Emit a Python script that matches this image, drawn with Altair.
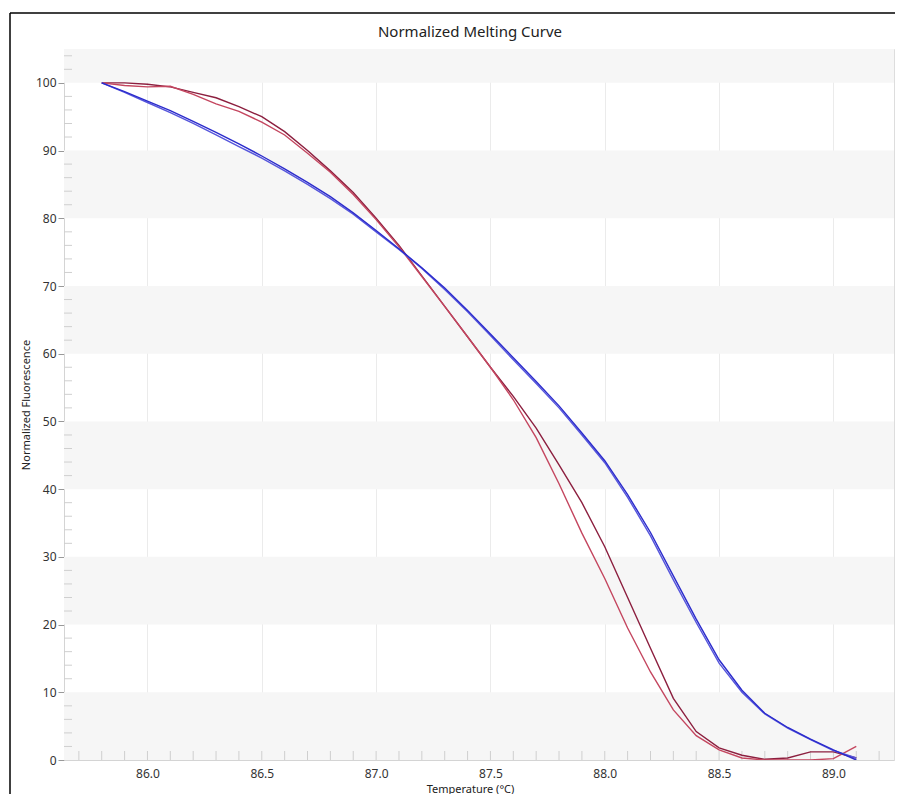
import altair as alt
import pandas as pd

# ---- data ----
temps = [85.8, 85.9, 86.0, 86.1, 86.2, 86.3, 86.4, 86.5, 86.6, 86.7, 86.8, 86.9,
         87.0, 87.1, 87.2, 87.3, 87.4, 87.5, 87.6, 87.7, 87.8, 87.9, 88.0, 88.1,
         88.2, 88.3, 88.4, 88.5, 88.6, 88.7, 88.8, 88.9, 89.0, 89.1]

blue_a = [100.0, 98.7, 97.3, 95.9, 94.3, 92.7, 91.0, 89.2, 87.3, 85.3, 83.2, 80.8,
          78.2, 75.5, 72.7, 69.7, 66.4, 62.9, 59.4, 55.9, 52.3, 48.3, 44.2, 39.2,
          33.6, 27.2, 20.8, 14.8, 10.3, 6.9, 4.8, 3.1, 1.5, 0.0]
blue_b = [100.0, 98.6, 97.1, 95.6, 94.0, 92.3, 90.6, 88.9, 87.0, 85.0, 82.9, 80.6,
          78.0, 75.4, 72.6, 69.5, 66.2, 62.7, 59.1, 55.6, 52.0, 48.0, 43.9, 38.8,
          33.1, 26.6, 20.3, 14.3, 10.0, 6.8, 4.7, 3.0, 1.4, 0.3]
red_dark = [100.0, 100.0, 99.8, 99.4, 98.6, 97.8, 96.5, 95.0, 92.8, 90.0, 87.0, 83.8,
            80.0, 76.0, 71.5, 67.0, 62.5, 58.0, 53.7, 49.0, 43.6, 38.0, 31.5, 24.0,
            16.5, 9.1, 4.2, 1.8, 0.7, 0.1, 0.3, 1.2, 1.2, 0.3]
red_light = [100.0, 99.6, 99.4, 99.5, 98.3, 96.9, 95.8, 94.2, 92.3, 89.6, 86.8, 83.5,
             79.8, 75.8, 71.4, 67.0, 62.5, 58.0, 53.2, 47.6, 40.8, 33.5, 26.8, 19.5,
             13.0, 7.4, 3.6, 1.5, 0.3, 0.0, 0.0, 0.0, 0.2, 2.0]

series_names = ["Red A", "Red B", "Blue A", "Blue B"]
series_colors = ["#8c1f3f", "#c4465f", "#5656dc", "#2b2bcc"]

chart_title = "Normalized Melting Curve"
x_title = "Temperature (°C)"
y_title = "Normalized Fluorescence"
x_labels = [86.0, 86.5, 87.0, 87.5, 88.0, 88.5, 89.0]
y_labels = [0, 10, 20, 30, 40, 50, 60, 70, 80, 90, 100]
band_lo = [0, 20, 40, 60, 80, 100]
band_hi = [10, 30, 50, 70, 90, 105]
x_minor = [round(85.7 + 0.1 * i, 1) for i in range(36)]
y_minor = [v for v in range(2, 105, 2) if v % 10 != 0]

X_DOMAIN = [85.635, 89.265]
Y_DOMAIN = [0, 105]
W, H = 830, 711
FONT = "Noto Sans"

rows = []
for name, vals in zip(series_names, [red_dark, red_light, blue_b, blue_a]):
    for t, v in zip(temps, vals):
        rows.append({"series": name, "T": t, "F": v})
df = pd.DataFrame(rows)

xs = alt.Scale(domain=X_DOMAIN, nice=False, zero=False)
ys = alt.Scale(domain=Y_DOMAIN, nice=False, zero=False)

x_axis = alt.Axis(
    values=x_labels,
    format=".1f",
    grid=True,
    gridColor="#ebebeb",
    ticks=False,
    labelPadding=8,
    labelFontSize=12,
    labelFont=FONT,
    labelColor="#333333",
    domainColor="#d4d4d4",
    title=x_title,
    titleFont=FONT,
    titleFontSize=11,
    titleFontWeight="normal",
    titleColor="#222222",
    titlePadding=4,
    titleX=406,
)
y_axis = alt.Axis(
    values=y_labels,
    grid=False,
    tickSize=6,
    tickColor="#999999",
    labelPadding=2,
    labelFontSize=12,
    labelFont=FONT,
    labelColor="#333333",
    domainColor="#d4d4d4",
    title=y_title,
    titleFont=FONT,
    titleFontSize=11,
    titleFontWeight="normal",
    titleColor="#222222",
    titlePadding=4,
)

bands = alt.Chart(pd.DataFrame({"lo": band_lo, "hi": band_hi})).mark_rect(
    color="#f6f6f6"
).encode(
    y=alt.Y("lo:Q", scale=ys, axis=y_axis),
    y2="hi:Q",
    x=alt.value(0),
    x2=alt.value(W),
)

xminor = alt.Chart(pd.DataFrame({"t": x_minor})).mark_rule(
    color="#cfcfcf", strokeWidth=1
).encode(
    x=alt.X("t:Q", scale=xs, axis=x_axis),
    y=alt.value(H),
    y2=alt.value(H - 9),
)

yminor = alt.Chart(pd.DataFrame({"v": y_minor})).mark_rule(
    color="#cfcfcf", strokeWidth=1
).encode(
    y=alt.Y("v:Q", scale=ys, axis=y_axis),
    x=alt.value(0),
    x2=alt.value(8),
)

lines = alt.Chart(df).mark_line(strokeWidth=1.4, clip=True).encode(
    x=alt.X("T:Q", scale=xs, axis=x_axis),
    y=alt.Y("F:Q", scale=ys, axis=y_axis),
    color=alt.Color(
        "series:N",
        scale=alt.Scale(domain=series_names, range=series_colors),
        legend=None,
    ),
    detail="series:N",
)

title_text = alt.Chart(pd.DataFrame({"txt": [chart_title]})).mark_text(
    font=FONT, fontSize=15, color="#222222", align="center", baseline="alphabetic"
).encode(text="txt:N", x=alt.value(406), y=alt.value(-12))

frame_left = alt.Chart(pd.DataFrame({"a": [0]})).mark_rule(
    color="#000000", strokeWidth=1.5
).encode(x=alt.value(-54), y=alt.value(-36), y2=alt.value(H + 60))

frame_top = alt.Chart(pd.DataFrame({"a": [0]})).mark_rule(
    color="#000000", strokeWidth=1.5
).encode(x=alt.value(-54), x2=alt.value(W + 20), y=alt.value(-36))

chart = alt.layer(
    bands, xminor, yminor, lines, title_text, frame_left, frame_top
).properties(
    width=W,
    height=H,
    autosize=alt.AutoSizeParams(type="none"),
    padding={"left": 56, "top": 41, "right": 1, "bottom": 36},
).configure_view(stroke="#e2e2e2").configure(background="#ffffff")

chart.save("out.html", embed_options={"renderer": "svg", "actions": False})
